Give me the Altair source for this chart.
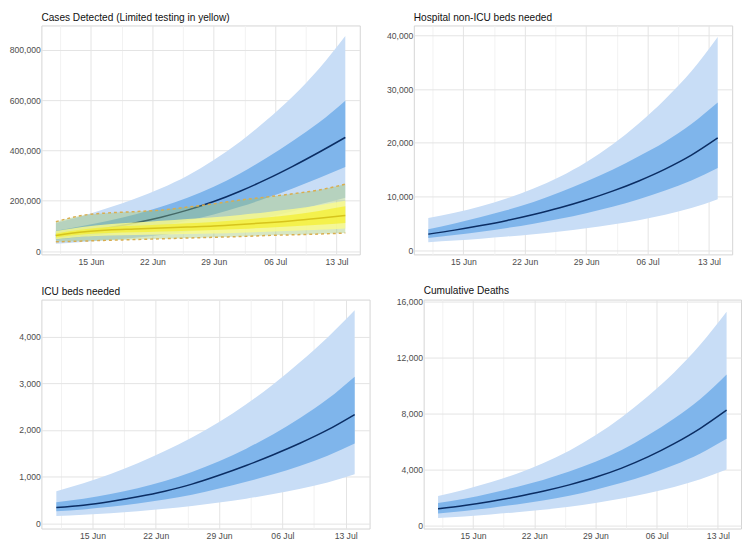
import altair as alt
import pandas as pd

# ---------------- data ----------------
dates = ["2020-06-11", "2020-06-14", "2020-06-17", "2020-06-20", "2020-06-23", "2020-06-26",
         "2020-06-29", "2020-07-02", "2020-07-05", "2020-07-08", "2020-07-11", "2020-07-14"]

# Cases detected (blue: full testing)
cases_med      = [62000, 77000, 93000, 112000, 135000, 163000, 197000, 238000, 285000, 337000, 393000, 452000]
cases_dark_lo  = [46000, 57000, 69000, 83000, 100000, 121000, 146000, 176000, 211000, 249000, 291000, 334000]
cases_dark_hi  = [81000, 100000, 121000, 146000, 176000, 212000, 256000, 309000, 370000, 438000, 511000, 598000]
cases_light_lo = [29000, 36000, 44000, 53000, 64000, 77000, 93000, 112000, 134000, 158000, 185000, 212000]
cases_light_hi = [112000, 140000, 172000, 208000, 250000, 300000, 362000, 435000, 520000, 615000, 725000, 855000]

# Cases detected (yellow: limited testing)
lim_med      = [62000, 76000, 84000, 88000, 92000, 96000, 100000, 106000, 113000, 121000, 131000, 142000]
lim_dark_lo  = [54000, 66000, 72000, 75000, 78000, 81000, 84000, 88000, 93000, 99000, 105000, 112000]
lim_dark_hi  = [70000, 86000, 96000, 101000, 106000, 111000, 116000, 124000, 134000, 145000, 160000, 178000]
lim_light_lo = [47000, 57000, 62000, 64000, 66000, 68000, 70000, 73000, 77000, 81000, 85000, 90000]
lim_light_hi = [80000, 96000, 107000, 114000, 121000, 128000, 135000, 144000, 155000, 167000, 182000, 200000]
lim_outer_lo = [37000, 40000, 43000, 46000, 49000, 52000, 55000, 58000, 62000, 65000, 68000, 72000]
lim_outer_hi = [117000, 142000, 152000, 157000, 163000, 175000, 188000, 203000, 215000, 228000, 243000, 266000]

# Hospital non-ICU beds
hosp_med      = [3000, 3750, 4600, 5550, 6650, 7900, 9350, 11000, 12900, 15100, 17700, 20900]
hosp_dark_lo  = [2300, 2850, 3450, 4150, 4950, 5850, 6900, 8100, 9500, 11100, 13000, 15300]
hosp_dark_hi  = [3900, 5000, 6200, 7500, 9000, 10800, 12800, 15000, 17500, 20200, 23500, 27500]
hosp_light_lo = [1500, 1800, 2150, 2550, 3000, 3500, 4100, 4800, 5600, 6600, 7850, 9500]
hosp_light_hi = [6000, 7000, 8200, 9700, 11500, 13700, 16400, 19700, 23600, 28100, 33300, 39700]

# ICU beds
icu_med      = [340, 390, 470, 570, 690, 840, 1030, 1240, 1470, 1720, 2000, 2330]
icu_dark_lo  = [260, 300, 355, 425, 510, 615, 745, 890, 1050, 1235, 1450, 1710]
icu_dark_hi  = [455, 530, 630, 755, 910, 1100, 1330, 1600, 1910, 2260, 2660, 3140]
icu_light_lo = [160, 185, 220, 262, 312, 372, 445, 530, 628, 740, 875, 1050]
icu_light_hi = [690, 860, 1060, 1290, 1550, 1840, 2170, 2550, 2980, 3460, 3980, 4560]

# Cumulative deaths
death_med      = [1190, 1420, 1710, 2050, 2440, 2900, 3440, 4100, 4900, 5850, 6950, 8250]
death_dark_lo  = [850, 1030, 1250, 1500, 1780, 2120, 2550, 3050, 3630, 4320, 5150, 6200]
death_dark_hi  = [1600, 1900, 2300, 2750, 3250, 3850, 4550, 5400, 6450, 7650, 9050, 10800]
death_light_lo = [520, 640, 780, 940, 1110, 1330, 1600, 1920, 2300, 2750, 3300, 4000]
death_light_hi = [2100, 2550, 3080, 3700, 4450, 5350, 6450, 7750, 9250, 10950, 12950, 15300]

titles = ["Cases Detected (Limited testing in yellow)", "Hospital non-ICU beds needed",
          "ICU beds needed", "Cumulative Deaths"]

# ---------------- styling ----------------
FONT = "Liberation Sans"
LIGHT = "#c8ddf6"
DARK = "#7fb5eb"
NAVY = "#0b2d63"
MAJOR = "#e3e3e3"
MINOR = "#f2f2f2"
H = 233

X0 = "2020-06-09T08:24:00"
X1 = "2020-07-15T15:36:00"

major_days = [(6, 15), (6, 22), (6, 29), (7, 6), (7, 13)]
minor_days = [(6, 11), (6, 18), (6, 25), (7, 2), (7, 9)]
x_values = [alt.DateTime(year=2020, month=m, date=d) for m, d in major_days] + \
           [alt.DateTime(year=2020, month=m, date=d, hours=12) for m, d in minor_days]

xaxis = alt.Axis(
    values=x_values,
    labelExpr="hours(datum.value) == 0 ? timeFormat(datum.value, '%d %b') : ''",
    gridColor={"condition": {"test": "hours(datum.value) == 0", "value": MAJOR}, "value": MINOR},
    title=None,
)


def band_df(med, dlo, dhi, llo, lhi):
    return pd.DataFrame({
        "date": [d + "T00:00:00" for d in dates],
        "med": med, "dlo": dlo, "dhi": dhi, "llo": llo, "lhi": lhi,
    })


def yaxis(major, minor, top):
    vals = list(range(0, top + 1, minor))
    return alt.Axis(
        values=vals,
        labelExpr=f"datum.value % {major} == 0 ? format(datum.value, ',') : ''",
        gridColor={"condition": {"test": f"datum.value % {major} == 0", "value": MAJOR}, "value": MINOR},
        title=None,
    )


def panel(df, title, ydom, yax, width, extra=None):
    x = alt.X("date:T", scale=alt.Scale(domain=[X0, X1]), axis=xaxis)
    ysc = alt.Scale(domain=ydom, nice=False, zero=False)
    base = alt.Chart(df)
    light = base.mark_area(color=LIGHT, interpolate="monotone").encode(
        x=x, y=alt.Y("llo:Q", scale=ysc, axis=yax), y2="lhi:Q")
    dark = base.mark_area(color=DARK, interpolate="monotone").encode(x=x, y="dlo:Q", y2="dhi:Q")
    line = base.mark_line(color=NAVY, strokeWidth=1.5, interpolate="monotone").encode(x=x, y="med:Q")
    layers = [light, dark, line]
    if extra is not None:
        layers += extra(x)
    return alt.layer(*layers).properties(
        width=width, height=H,
        title=alt.TitleParams(title, anchor="start", frame="group", fontSize=10.3, font=FONT,
                              fontWeight="normal", color="#111111", offset=2),
    )


cases_df = band_df(cases_med, cases_dark_lo, cases_dark_hi, cases_light_lo, cases_light_hi)
lim_df = pd.DataFrame({
    "date": [d + "T00:00:00" for d in dates],
    "med": lim_med, "dlo": lim_dark_lo, "dhi": lim_dark_hi,
    "llo": lim_light_lo, "lhi": lim_light_hi, "olo": lim_outer_lo, "ohi": lim_outer_hi,
})


def limited_layers(x):
    b = alt.Chart(lim_df)
    green = b.mark_area(color="#9cc36b", opacity=0.4, interpolate="monotone").encode(x=x, y="olo:Q", y2="ohi:Q")
    ylight = b.mark_area(color="#fbfb8c", opacity=0.8, interpolate="monotone").encode(x=x, y="llo:Q", y2="lhi:Q")
    ydark = b.mark_area(color="#f4ef3a", opacity=0.8, interpolate="monotone").encode(x=x, y="dlo:Q", y2="dhi:Q")
    yline = b.mark_line(color="#d6c41c", strokeWidth=1.5, interpolate="monotone").encode(x=x, y="med:Q")
    dash_hi = b.mark_line(color="#d9ad4f", strokeWidth=1.5, strokeDash=[3, 3], interpolate="monotone").encode(x=x, y="ohi:Q")
    dash_lo = b.mark_line(color="#d9ad4f", strokeWidth=1.5, strokeDash=[3, 3], interpolate="monotone").encode(x=x, y="olo:Q")
    return [green, ylight, ydark, yline, dash_hi, dash_lo]


p1 = panel(cases_df, titles[0], [-13000, 897000], yaxis(200000, 100000, 800000), 324, limited_layers)
p2 = panel(band_df(hosp_med, hosp_dark_lo, hosp_dark_hi, hosp_light_lo, hosp_light_hi), titles[1],
           [-770, 41840], yaxis(10000, 5000, 40000), 324)
p3 = panel(band_df(icu_med, icu_dark_lo, icu_dark_hi, icu_light_lo, icu_light_hi), titles[2],
           [-110, 4790], yaxis(1000, 500, 4500), 334)
p4 = panel(band_df(death_med, death_dark_lo, death_dark_hi, death_light_lo, death_light_hi), titles[3],
           [-230, 16170], yaxis(4000, 2000, 16000), 323)

chart = alt.vconcat(
    alt.hconcat(p1, p2, spacing=25),
    alt.hconcat(p3, p4, spacing=25),
    spacing=18,
).configure_view(stroke="#d4d4d4", strokeWidth=1).configure_axis(
    labelFont=FONT, labelFontSize=8.8, labelColor="#4d4d4d", ticks=False, tickSize=0,
    domain=False, gridWidth=1,
).configure_axisX(labelPadding=3).configure_axisY(labelPadding=1).properties(
    padding=0, background="white")

chart.save("out.html", embed_options={"renderer": "svg", "actions": False})
